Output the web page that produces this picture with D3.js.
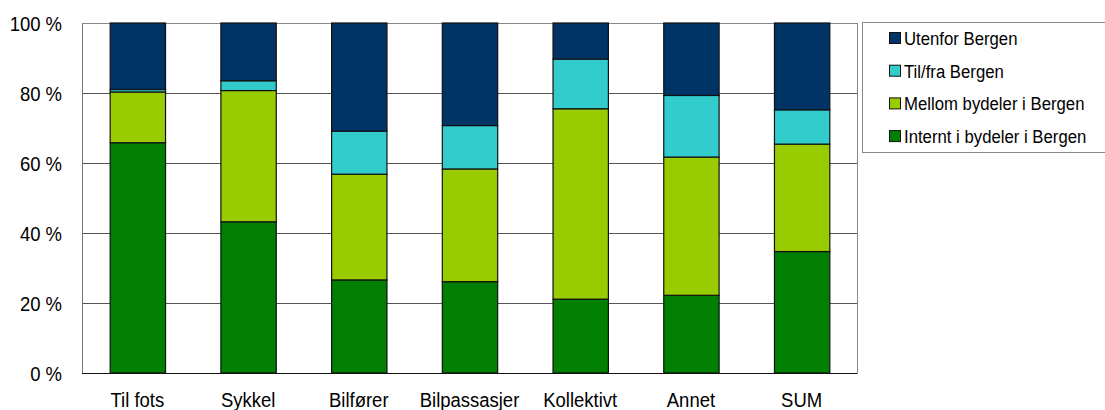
<!DOCTYPE html>
<html>
<head>
<meta charset="utf-8">
<script src="https://cdn.jsdelivr.net/npm/d3@7"></script>
<style>
  body { margin: 0; background: #fff; }
  text { font-family: "Liberation Sans", Arial, sans-serif; fill: #000; }
</style>
</head>
<body>
<div id="container"></div>
<script>
// travel mode categories
const categories = ["Til fots", "Sykkel", "Bilfører", "Bilpassasjer", "Kollektivt", "Annet", "SUM"];

// stack order bottom -> top
const seriesNames = ["Internt i bydeler i Bergen", "Mellom bydeler i Bergen", "Til/fra Bergen", "Utenfor Bergen"];
const seriesColors = ["#007f00", "#99cc00", "#33cccc", "#003366"];

// percent values per category
const internt = [65.8, 43.2, 26.6, 26.1, 21.1, 22.2, 34.7];
const mellom  = [14.5, 37.5, 30.2, 32.2, 54.4, 39.5, 30.7];
const tilFra  = [0.7, 2.8, 12.3, 12.4, 14.2, 17.6, 9.8];
const utenfor = [19.0, 16.5, 30.9, 29.3, 10.3, 20.7, 24.8];

const yTicks = [0, 20, 40, 60, 80, 100];

const width = 1105, height = 410;
const margin = {left: 82, right: 248, top: 23, bottom: 37};

const table = categories.map((c, i) => ({
    cat: c,
    [seriesNames[0]]: internt[i],
    [seriesNames[1]]: mellom[i],
    [seriesNames[2]]: tilFra[i],
    [seriesNames[3]]: utenfor[i]
}));

const stacked = d3.stack().keys(seriesNames)(table);

const svg = d3.select("#container")
    .append("svg")
    .attr("width", width)
    .attr("height", height);

const x = d3.scaleBand()
    .domain(categories)
    .range([margin.left, width - margin.right])
    .paddingInner(0.5)
    .paddingOuter(0.25);

const y = d3.scaleLinear()
    .domain([0, 100])
    .range([height - margin.bottom, margin.top]);

// plot frame + gridlines
svg.append("rect")
    .attr("x", margin.left + 0.5)
    .attr("y", y(100) + 0.5)
    .attr("width", width - margin.right - margin.left)
    .attr("height", y(0) - y(100))
    .attr("fill", "none")
    .attr("stroke", "#888");

svg.append("g")
    .selectAll("line")
    .data(yTicks.slice(1, -1))
    .enter()
    .append("line")
    .attr("x1", margin.left)
    .attr("x2", width - margin.right)
    .attr("y1", d => Math.round(y(d)) + 0.5)
    .attr("y2", d => Math.round(y(d)) + 0.5)
    .attr("stroke", "#555");

// bars
svg.append("g")
    .selectAll("g")
    .data(stacked)
    .enter()
    .append("g")
    .attr("fill", (d, i) => seriesColors[i])
    .selectAll("rect")
    .data(d => d)
    .enter()
    .append("rect")
    .attr("x", d => x(d.data.cat) + 0.5)
    .attr("y", d => y(d[1]))
    .attr("width", x.bandwidth())
    .attr("height", d => y(d[0]) - y(d[1]))
    .attr("stroke", "#111")
    .attr("stroke-width", 1.2);

// axes lines
const yAxis = svg.append("g")
    .attr("transform", `translate(${margin.left},0)`)
    .call(d3.axisLeft(y).tickValues(yTicks).tickSize(0).tickPadding(0).tickFormat(d => d + " %"));
yAxis.select(".domain").attr("stroke", "#777");
yAxis.selectAll("text").remove();

svg.append("line")
    .attr("x1", margin.left)
    .attr("x2", width - margin.right)
    .attr("y1", y(0) + 0.5)
    .attr("y2", y(0) + 0.5)
    .attr("stroke", "#111");

// y tick labels (narrow, tall look of the original)
svg.append("g")
    .selectAll("text")
    .data(yTicks)
    .enter()
    .append("text")
    .attr("transform", d => `translate(62,${y(d) + 7.5}) scale(0.88,1)`)
    .attr("text-anchor", "end")
    .style("font-size", "21px")
    .text(d => d + " %");

// category labels
svg.append("g")
    .selectAll("text")
    .data(categories)
    .enter()
    .append("text")
    .attr("transform", d => `translate(${x(d) + x.bandwidth() / 2},407) scale(0.88,1)`)
    .attr("text-anchor", "middle")
    .style("font-size", "21px")
    .text(d => d);

// legend
const legend = svg.append("g").attr("transform", "translate(862,22)");
legend.append("rect")
    .attr("x", 0.5)
    .attr("y", 0.5)
    .attr("width", 260)
    .attr("height", 130)
    .attr("fill", "#fff")
    .attr("stroke", "#888");

const legendOrder = seriesNames.slice().reverse();
const item = legend.selectAll("g.item")
    .data(legendOrder)
    .enter()
    .append("g")
    .attr("class", "item")
    .attr("transform", (d, i) => `translate(27,${16 + i * 32.7})`);

item.append("rect")
    .attr("x", 0.5)
    .attr("y", -5.5)
    .attr("width", 11)
    .attr("height", 11)
    .attr("fill", d => seriesColors[seriesNames.indexOf(d)])
    .attr("stroke", "#111");

item.append("text")
    .attr("transform", "translate(15,7) scale(0.9,1)")
    .style("font-size", "18.6px")
    .text(d => d);
</script>
</body>
</html>
